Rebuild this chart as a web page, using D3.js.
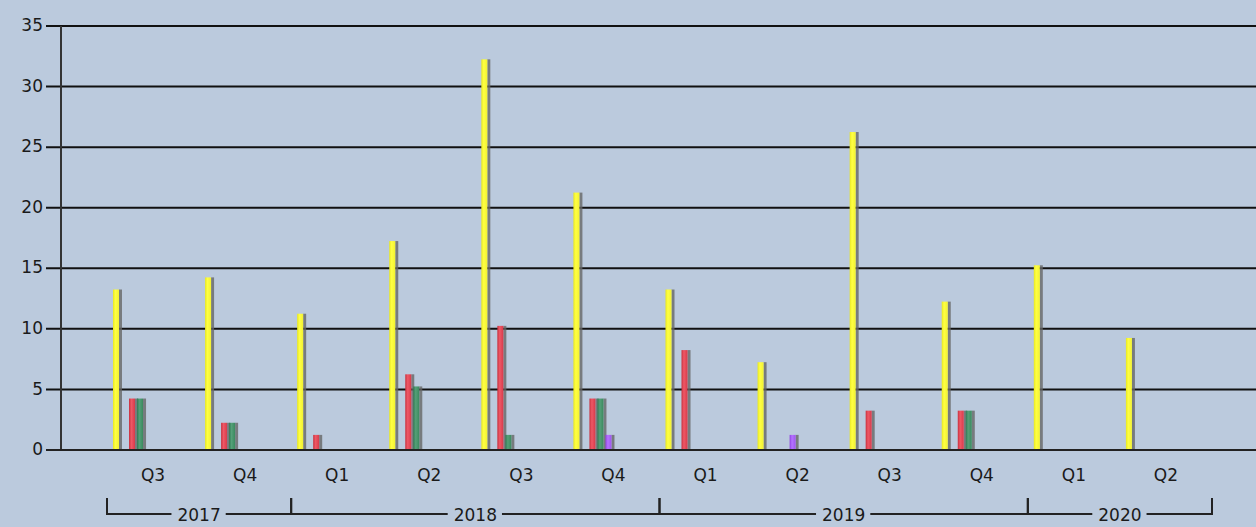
<!DOCTYPE html>
<html>
<head>
<meta charset="utf-8">
<script src="https://cdn.jsdelivr.net/npm/d3@7"></script>
<style>
  html, body { margin: 0; padding: 0; background: #bbcadd; }
  svg { display: block; font-family: "DejaVu Sans", Verdana, sans-serif; }
</style>
</head>
<body>
<svg id="chart"></svg>
<script>
// quarters on the x axis, grouped by year
const quarters = ["Q3", "Q4", "Q1", "Q2", "Q3", "Q4", "Q1", "Q2", "Q3", "Q4", "Q1", "Q2"]
const years    = ["2017", "2017", "2018", "2018", "2018", "2018", "2019", "2019", "2019", "2019", "2020", "2020"]

// series (the second one is empty in the picture, it only leaves a gap)
const seriesNames = ["yellow", "blank", "red", "green", "purple"]
const yellowVals = [13, 14, 11, 17, 32, 21, 13, 7, 26, 12, 15, 9]
const blankVals  = [0, 0, 0, 0, 0, 0, 0, 0, 0, 0, 0, 0]
const redVals    = [4, 2, 1, 6, 10, 4, 8, 0, 3, 3, 0, 0]
const greenVals  = [4, 2, 0, 5, 1, 4, 0, 0, 0, 3, 0, 0]
const purpleVals = [0, 0, 0, 0, 0, 1, 0, 1, 0, 0, 0, 0]

const yTicks = [0, 5, 10, 15, 20, 25, 30, 35]

const colors = {
	yellow: ["#e8e820", "#ffff44", "#f2f230"],
	blank:  ["#888", "#888", "#888"],
	red:    ["#c8303e", "#ee5866", "#d83a4a"],
	green:  ["#2f7a52", "#55a078", "#3a8a5e"],
	purple: ["#9040e0", "#b474ff", "#a055f0"]
}

const width = 1256
const height = 527

const svg = d3.select("#chart")
	.attr("width", width)
	.attr("height", height)

const defs = svg.append("defs")
for (let key of seriesNames) {
	let g = defs.append("linearGradient")
		.attr("id", "grad-" + key)
		.attr("x1", "0%").attr("x2", "100%")
		.attr("y1", "0%").attr("y2", "0%")
	g.append("stop").attr("offset", "0%").attr("stop-color", colors[key][0])
	g.append("stop").attr("offset", "40%").attr("stop-color", colors[key][1])
	g.append("stop").attr("offset", "100%").attr("stop-color", colors[key][2])
}

const x0 = d3.scaleBand()
	.domain(d3.range(quarters.length))
	.range([107, 1212])

// bars sit in the left half of each quarter band
const x1 = d3.scaleBand()
	.domain(seriesNames)
	.range([x0.bandwidth() * 0.065, x0.bandwidth() * 0.5])

const y = d3.scaleLinear()
	.domain([0, 35])
	.range([450, 26])

// gridlines
svg.append("g")
	.selectAll("line")
	.data(yTicks)
	.join("line")
	.attr("x1", 46)
	.attr("x2", width)
	.attr("y1", d => y(d))
	.attr("y2", d => y(d))
	.attr("stroke", "#111")
	.attr("stroke-width", 2)

// y labels
svg.append("g")
	.selectAll("text")
	.data(yTicks)
	.join("text")
	.attr("x", 43)
	.attr("y", d => y(d) - 1)
	.attr("dy", "0.36em")
	.attr("text-anchor", "end")
	.attr("font-size", 17)
	.attr("fill", "#1a1a1a")
	.text(d => d)

// y axis line
svg.append("line")
	.attr("x1", 61).attr("x2", 61)
	.attr("y1", y(35)).attr("y2", y(0))
	.attr("stroke", "#333")
	.attr("stroke-width", 2)

// bars
const seriesData = {
	yellow: yellowVals,
	blank: blankVals,
	red: redVals,
	green: greenVals,
	purple: purpleVals
}

const bars = []
quarters.forEach((q, i) => {
	for (let key of seriesNames) {
		if (key == "blank") continue
		let v = seriesData[key][i]
		if (v > 0) bars.push({ i: i, key: key, value: v })
	}
})

const barW = x1.bandwidth()

const barG = svg.append("g")

// shadow on the right of each bar
barG.selectAll("rect.shadow")
	.data(bars)
	.join("rect")
	.attr("class", "shadow")
	.attr("x", d => x0(d.i) + x1(d.key) + barW - 2)
	.attr("y", d => y(d.value) - 3)
	.attr("width", 3)
	.attr("height", d => y(0) - y(d.value) + 3)
	.attr("fill", "#666")
	.attr("fill-opacity", 0.8)

barG.selectAll("rect.bar")
	.data(bars)
	.join("rect")
	.attr("class", "bar")
	.attr("x", d => x0(d.i) + x1(d.key))
	.attr("y", d => y(d.value) - 3)
	.attr("width", barW - 2)
	.attr("height", d => y(0) - y(d.value) + 3)
	.attr("fill", d => "url(#grad-" + d.key + ")")

// baseline over the bars
svg.append("line")
	.attr("x1", 46).attr("x2", width)
	.attr("y1", y(0)).attr("y2", y(0))
	.attr("stroke", "#222")
	.attr("stroke-width", 2)

// quarter labels
svg.append("g")
	.selectAll("text")
	.data(quarters)
	.join("text")
	.attr("x", (d, i) => x0(i) + x0.bandwidth() / 2)
	.attr("y", 481)
	.attr("text-anchor", "middle")
	.attr("font-size", 17)
	.attr("fill", "#1a1a1a")
	.text(d => d)

// year brackets
const yearGroups = d3.groups(quarters.map((q, i) => ({ i: i, year: years[i] })), d => d.year)
const bracketY = 514
const yearG = svg.append("g")

for (let [year, items] of yearGroups) {
	let left = x0(items[0].i)
	let right = x0(items[items.length - 1].i) + x0.bandwidth()
	let mid = (left + right) / 2

	let t = yearG.append("text")
		.attr("x", mid)
		.attr("y", bracketY + 7)
		.attr("text-anchor", "middle")
		.attr("font-size", 17)
		.attr("fill", "#1a1a1a")
		.text(year)
	let tw = t.node().getComputedTextLength()

	yearG.append("path")
		.attr("d", `M${left},${bracketY - 16}V${bracketY}H${mid - tw / 2 - 6}M${mid + tw / 2 + 5},${bracketY}H${right}V${bracketY - 16}`)
		.attr("fill", "none")
		.attr("stroke", "#222")
		.attr("stroke-width", 2)
}
</script>
</body>
</html>
